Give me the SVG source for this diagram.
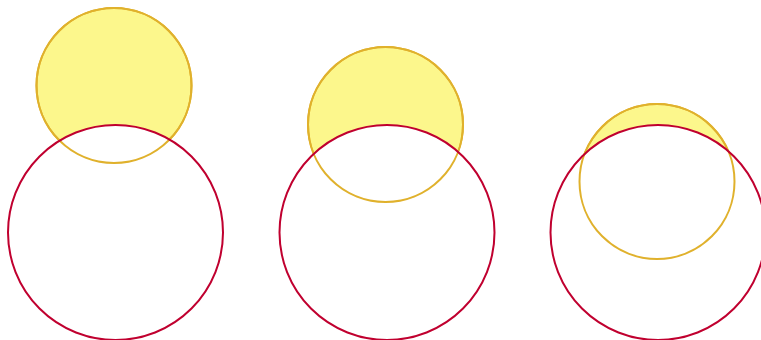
<svg xmlns="http://www.w3.org/2000/svg" width="761" height="340" viewBox="0 0 761 340">
<style>
.yf{fill:#fcf78c;stroke:#e0b12c;stroke-width:2}
.ys{fill:none;stroke:#e0b12c;stroke-width:2}
.rf{fill:#ffffff;stroke:none}
.rs{fill:none;stroke:#c0002f;stroke-width:2}
</style>
<rect width="761" height="340" fill="#ffffff"/>
<g id="pair1">
<circle class="yf" cx="114" cy="85.5" r="77.5"/>
<circle class="rf" cx="115.5" cy="232.5" r="107.5"/>
<circle class="ys" cx="114" cy="85.5" r="77.5"/>
<circle class="rs" cx="115.5" cy="232.5" r="107.5"/>
</g>
<g id="pair2">
<circle class="yf" cx="385.5" cy="124.5" r="77.5"/>
<circle class="rf" cx="387" cy="232.5" r="107.5"/>
<circle class="ys" cx="385.5" cy="124.5" r="77.5"/>
<circle class="rs" cx="387" cy="232.5" r="107.5"/>
</g>
<g id="pair3">
<circle class="yf" cx="657" cy="181.5" r="77.5"/>
<circle class="rf" cx="658" cy="232.5" r="107.5"/>
<circle class="ys" cx="657" cy="181.5" r="77.5"/>
<circle class="rs" cx="658" cy="232.5" r="107.5"/>
</g>
</svg>
